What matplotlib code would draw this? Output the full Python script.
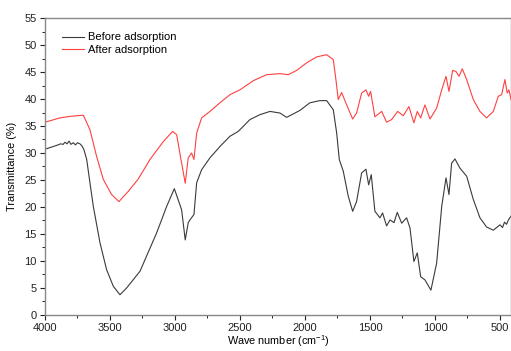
import numpy as np
import matplotlib
matplotlib.use('Agg')
import matplotlib.pyplot as plt

plt.rcParams['font.family'] = ['Liberation Sans', 'DejaVu Sans']

# wave numbers (cm-1) and transmittance (%)
wn_before = [4000, 3936, 3900, 3880, 3860, 3846, 3830, 3815, 3800, 3782, 3765, 3750, 3731, 3715, 3700,
             3679, 3654, 3628, 3577, 3526, 3474, 3423, 3372, 3269, 3141, 3064, 3005, 2949,
             2921, 2898, 2885, 2854, 2833, 2795, 2731, 2654, 2577, 2513, 2423, 2346, 2269,
             2192, 2141, 2077, 2038, 1962, 1885, 1833, 1782, 1756, 1736, 1705, 1667, 1633,
             1603, 1564, 1531, 1510, 1490, 1462, 1423, 1403, 1372, 1346, 1315, 1290, 1256,
             1218, 1192, 1162, 1136, 1110, 1077, 1031, 987, 948, 915, 892, 872, 846, 808,
             756, 705, 654, 603, 551, 500, 480, 465, 449, 435, 415]
t_before = [30.7, 31.2, 31.5, 31.7, 31.6, 32.0, 31.7, 32.2, 31.6, 31.9, 31.5, 31.9, 31.7, 31.3, 30.6,
            28.8, 24.5, 20.1, 13.4, 8.4, 5.3, 3.75, 5.0, 8.1, 15.2, 20.1, 23.4, 19.5,
            13.9, 17.1, 17.6, 18.6, 24.5, 26.9, 29.1, 31.2, 33.1, 34.0, 36.2, 37.1, 37.7,
            37.4, 36.6, 37.4, 37.9, 39.3, 39.7, 39.7, 38.0, 33.7, 28.8, 26.6, 22.0, 19.2,
            21.0, 26.3, 27.0, 24.1, 26.0, 19.2, 18.0, 18.9, 16.5, 17.6, 17.1, 19.0, 17.0,
            18.0, 16.1, 9.9, 11.5, 7.1, 6.5, 4.6, 9.6, 20.1, 25.4, 22.3, 28.1, 28.9, 27.2,
            25.7, 21.4, 18.0, 16.3, 15.7, 16.7, 16.2, 17.2, 16.8, 17.6, 18.3]

wn_after = [4000, 3885, 3800, 3705, 3654, 3603, 3551, 3487, 3431, 3359, 3282, 3192, 3090,
            3018, 2987, 2956, 2921, 2898, 2872, 2854, 2833, 2795, 2731, 2654, 2577, 2500,
            2397, 2295, 2192, 2128, 2064, 1987, 1910, 1833, 1782, 1762, 1744, 1718, 1679,
            1633, 1603, 1564, 1531, 1510, 1495, 1462, 1410, 1372, 1333, 1287, 1244, 1200,
            1162, 1136, 1110, 1077, 1038, 987, 948, 915, 892, 864, 838, 815, 790, 756, 705,
            654, 603, 551, 513, 487, 462, 444, 431, 415]
t_after = [35.7, 36.5, 36.8, 37.0, 34.3, 29.4, 25.1, 22.3, 21.0, 22.9, 25.2, 28.8, 32.1,
           34.0, 33.4, 29.1, 24.4, 29.1, 30.0, 28.8, 33.7, 36.5, 37.7, 39.3, 40.8, 41.7,
           43.4, 44.5, 44.7, 44.5, 45.3, 46.7, 47.8, 48.2, 47.3, 43.6, 39.9, 41.2, 38.9,
           36.3, 37.4, 41.1, 41.7, 40.5, 41.4, 36.7, 37.7, 35.7, 36.2, 37.7, 36.9, 38.6,
           35.6, 37.7, 36.5, 38.9, 36.3, 38.3, 41.7, 44.2, 41.4, 45.3, 45.1, 44.2, 45.6, 43.6,
           39.9, 37.7, 36.5, 37.7, 40.5, 40.8, 43.6, 41.1, 41.7, 39.9]

fig = plt.figure(figsize=(5.11, 3.51), dpi=100)
ax = fig.add_axes([0.088, 0.1026, 0.912, 0.8461])

ax.plot(wn_before, t_before, color='#3a3a3a', lw=0.8, label='Before adsorption')
ax.plot(wn_after, t_after, color='#ff4040', lw=0.8, label='After adsorption')

ax.set_xlim(4000, 415)
ax.set_ylim(0, 55)
ax.set_xticks(np.arange(4000, 400, -500))
ax.set_xticks(np.arange(3750, 400, -500), minor=True)
ax.set_yticks(np.arange(0, 56, 5))
ax.set_yticks(np.arange(2.5, 55, 5), minor=True)
ax.tick_params(direction='out', length=3.5, width=0.8, labelsize=8, colors='#222222', pad=2.5)
ax.tick_params(which='minor', direction='out', length=2, width=0.6)
for s in ax.spines.values():
    s.set_color('#888888')
    s.set_linewidth(1.0)

ax.set_xlabel('Wave number (cm$^{\\mathregular{-1}}$)', fontsize=7.8, labelpad=0)
ax.set_ylabel('Transmittance (%)', fontsize=7.8, labelpad=5)

ax.legend(loc='upper left', bbox_to_anchor=(0.015, 0.985), frameon=False, fontsize=8,
          handlelength=2.0, handletextpad=0.3, labelspacing=0.2)

fig.savefig('out.png', dpi=100)
